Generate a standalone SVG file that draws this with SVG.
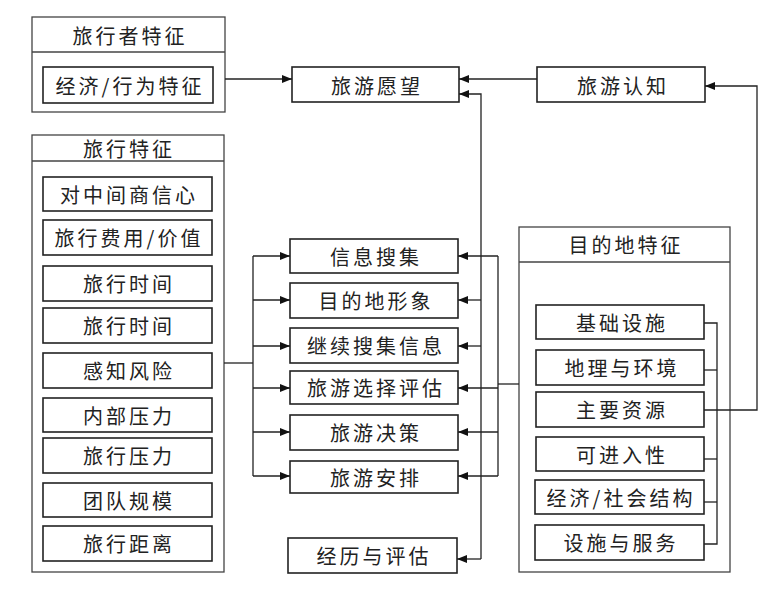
<svg xmlns="http://www.w3.org/2000/svg" width="784" height="589" viewBox="0 0 784 589">
<style>
.box{fill:#fff;stroke:#222;stroke-width:1.6}
.outer{fill:#fff;stroke:#444;stroke-width:1.3}
.t{font-family:"Noto Sans CJK SC","Noto Sans",sans-serif;font-size:20px;fill:#222;text-anchor:middle;dominant-baseline:central;letter-spacing:3px}
.c{fill:none;stroke:#222;stroke-width:1.3}
</style>
<defs>
<marker id="ah" viewBox="0 0 10 8" refX="10" refY="4" markerWidth="10" markerHeight="8" markerUnits="userSpaceOnUse" orient="auto">
<path d="M0,0 L10,4 L0,8 z" fill="#111"/>
</marker>
</defs>
<rect width="784" height="589" fill="#fff"/>

<g id="traveler">
<rect class="outer" x="32" y="17" width="193" height="95"/>
<line class="outer" x1="32" y1="52" x2="225" y2="52"/>
<text class="t" x="130" y="35">旅行者特征</text>
<g id="econ"><rect class="box" x="43" y="67" width="170" height="36"/><text class="t" x="130" y="85">经济/行为特征</text></g>
</g>

<g id="wish"><rect class="box" x="292" y="67" width="167" height="35"/><text class="t" x="377" y="85">旅游愿望</text></g>
<g id="cognition"><rect class="box" x="537" y="67" width="168" height="35"/><text class="t" x="623" y="85">旅游认知</text></g>

<g id="trip">
<rect class="outer" x="32" y="135" width="192" height="437"/>
<line class="outer" x1="32" y1="161" x2="224" y2="161"/>
<text class="t" x="129" y="148">旅行特征</text>
<g id="trip1"><rect class="box" x="43" y="177" width="169" height="34"/><text class="t" x="129" y="194">对中间商信心</text></g>
<g id="trip2"><rect class="box" x="43" y="220" width="169" height="35"/><text class="t" x="129" y="237.5">旅行费用/价值</text></g>
<g id="trip3"><rect class="box" x="43" y="266" width="169" height="35"/><text class="t" x="129" y="283.5">旅行时间</text></g>
<g id="trip4"><rect class="box" x="43" y="308" width="169" height="35"/><text class="t" x="129" y="325.5">旅行时间</text></g>
<g id="trip5"><rect class="box" x="43" y="353" width="169" height="35"/><text class="t" x="129" y="370.5">感知风险</text></g>
<g id="trip6"><rect class="box" x="43" y="398" width="169" height="34"/><text class="t" x="129" y="415">内部压力</text></g>
<g id="trip7"><rect class="box" x="43" y="438" width="169" height="35"/><text class="t" x="129" y="455.5">旅行压力</text></g>
<g id="trip8"><rect class="box" x="43" y="483" width="169" height="34"/><text class="t" x="129" y="500">团队规模</text></g>
<g id="trip9"><rect class="box" x="43" y="526" width="169" height="35"/><text class="t" x="129" y="543.5">旅行距离</text></g>
</g>

<g id="search"><rect class="box" x="290" y="239" width="168" height="34"/><text class="t" x="376" y="256">信息搜集</text></g>
<g id="image"><rect class="box" x="290" y="283" width="168" height="35"/><text class="t" x="376" y="300.5">目的地形象</text></g>
<g id="moresearch"><rect class="box" x="290" y="328" width="168" height="35"/><text class="t" x="376" y="345.5">继续搜集信息</text></g>
<g id="evaluate"><rect class="box" x="290" y="371" width="168" height="33"/><text class="t" x="376" y="387.5">旅游选择评估</text></g>
<g id="decision"><rect class="box" x="290" y="415" width="168" height="35"/><text class="t" x="376" y="432.5">旅游决策</text></g>
<g id="arrange"><rect class="box" x="290" y="461" width="168" height="32"/><text class="t" x="376" y="477">旅游安排</text></g>
<g id="experience"><rect class="box" x="288" y="538" width="169" height="35"/><text class="t" x="374" y="555.5">经历与评估</text></g>

<g id="dest">
<rect class="outer" x="519" y="227" width="211" height="345"/>
<line class="outer" x1="519" y1="262" x2="730" y2="262"/>
<text class="t" x="626" y="244.5">目的地特征</text>
<g id="dest1"><rect class="box" x="536" y="305" width="168" height="34"/><text class="t" x="622" y="322">基础设施</text></g>
<g id="dest2"><rect class="box" x="536" y="350" width="168" height="35"/><text class="t" x="622" y="367.5">地理与环境</text></g>
<g id="dest3"><rect class="box" x="536" y="392" width="168" height="35"/><text class="t" x="622" y="409.5">主要资源</text></g>
<g id="dest4"><rect class="box" x="536" y="437" width="168" height="34"/><text class="t" x="622" y="454">可进入性</text></g>
<g id="dest5"><rect class="box" x="535" y="480" width="169" height="34"/><text class="t" x="621" y="497">经济/社会结构</text></g>
<g id="dest6"><rect class="box" x="535" y="525" width="169" height="35"/><text class="t" x="621" y="542.5">设施与服务</text></g>
</g>

<g id="connectors">
<line class="c" x1="225" y1="79" x2="292" y2="79" marker-end="url(#ah)"/>
<line class="c" x1="537" y1="79" x2="459" y2="79" marker-end="url(#ah)"/>
<path class="c" d="M704,410 H757 V86 H705" marker-end="url(#ah)"/>
<path class="c" d="M704,323 H717 V544 H704"/>
<line class="c" x1="704" y1="370" x2="717" y2="370"/>
<line class="c" x1="704" y1="459" x2="717" y2="459"/>
<line class="c" x1="704" y1="502" x2="717" y2="502"/>
<line class="c" x1="224" y1="363" x2="253" y2="363"/>
<line class="c" x1="253" y1="256" x2="253" y2="476"/>
<line class="c" x1="253" y1="256" x2="290" y2="256" marker-end="url(#ah)"/>
<line class="c" x1="253" y1="300" x2="290" y2="300" marker-end="url(#ah)"/>
<line class="c" x1="253" y1="346" x2="290" y2="346" marker-end="url(#ah)"/>
<line class="c" x1="253" y1="388" x2="290" y2="388" marker-end="url(#ah)"/>
<line class="c" x1="253" y1="432" x2="290" y2="432" marker-end="url(#ah)"/>
<line class="c" x1="253" y1="476" x2="290" y2="476" marker-end="url(#ah)"/>
<line class="c" x1="519" y1="384" x2="498" y2="384"/>
<line class="c" x1="498" y1="256" x2="498" y2="476"/>
<line class="c" x1="498" y1="256" x2="458" y2="256" marker-end="url(#ah)"/>
<line class="c" x1="498" y1="388" x2="458" y2="388" marker-end="url(#ah)"/>
<line class="c" x1="498" y1="432" x2="458" y2="432" marker-end="url(#ah)"/>
<line class="c" x1="498" y1="476" x2="458" y2="476" marker-end="url(#ah)"/>
<path class="c" d="M481,559 V94 H459" marker-end="url(#ah)"/>
<line class="c" x1="481" y1="300" x2="458" y2="300" marker-end="url(#ah)"/>
<line class="c" x1="481" y1="346" x2="458" y2="346" marker-end="url(#ah)"/>
<line class="c" x1="481" y1="559" x2="457" y2="559" marker-end="url(#ah)"/>
</g>
</svg>
